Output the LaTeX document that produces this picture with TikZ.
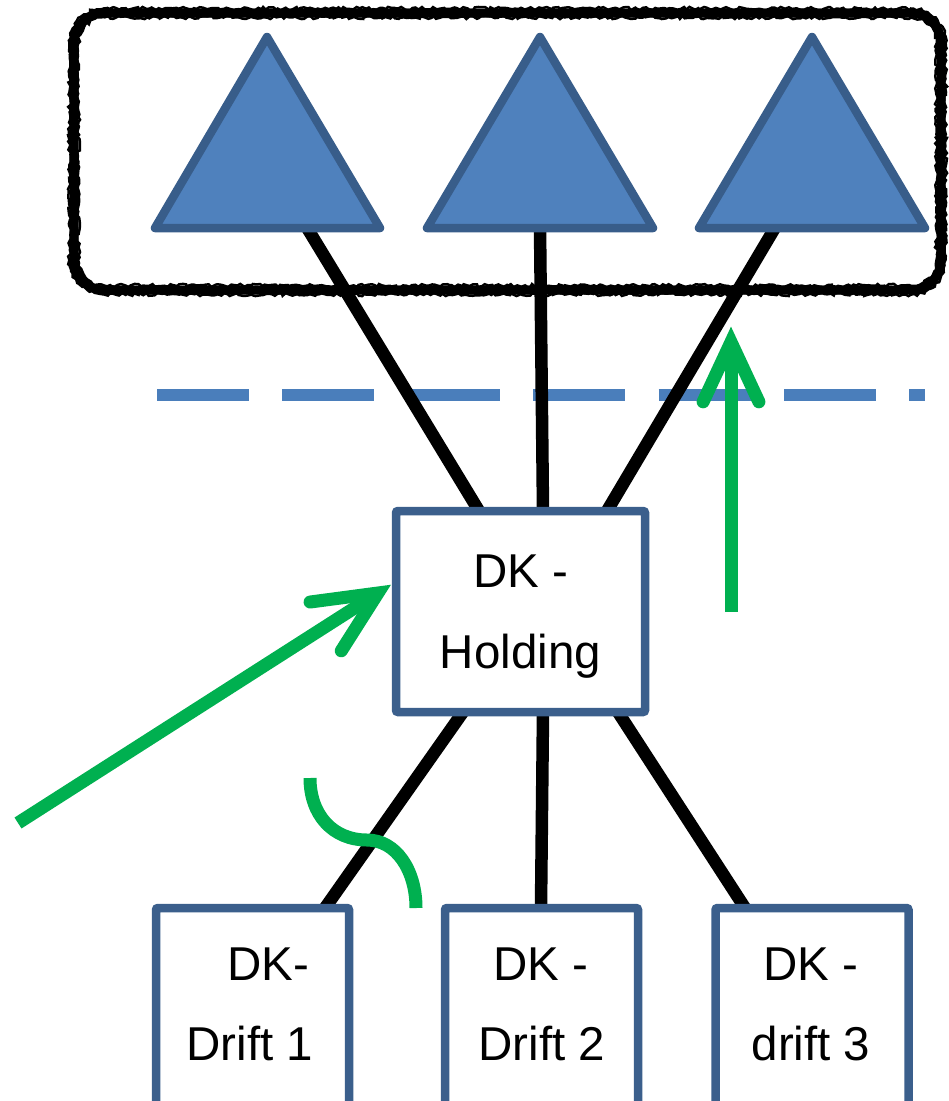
\documentclass[tikz,border=0pt]{standalone}
\usepackage{fontspec}
\setmainfont{Liberation Sans}
\usetikzlibrary{calc,decorations.pathmorphing}
\definecolor{triFill}{HTML}{4F81BD}
\definecolor{triEdge}{HTML}{385D8A}
\definecolor{boxEdge}{HTML}{3B5F8C}
\definecolor{dashBlue}{HTML}{4A7EBB}
\definecolor{arrGreen}{HTML}{00B050}
\newcommand{\myrr}[5]{({#1+#5},#2) -- ({#3-#5},#2) arc[start angle=270,end angle=360,radius=#5] -- (#3,{#4-#5}) arc[start angle=0,end angle=90,radius=#5] -- ({#1+#5},#4) arc[start angle=90,end angle=180,radius=#5] -- (#1,{#2+#5}) arc[start angle=180,end angle=270,radius=#5] -- cycle}
\tikzset{
  tri/.style={fill=triFill, draw=triEdge, line width=8.5pt, line join=round},
  entity/.style={rectangle, draw=boxEdge, fill=white, line width=8.5pt, rounded corners=2pt, inner sep=0pt, outer sep=0pt},
  link/.style={draw=black, line width=12.5pt},
  lbl/.style={font=\fontsize{47.5pt}{57pt}\selectfont, anchor=base, inner sep=0pt, outer sep=0pt},
  garrow/.style={draw=arrGreen, line width=13pt},
  gbarb/.style={draw=arrGreen, line width=13pt, line cap=round, line join=miter},
  roughframe/.style={draw=black, line width=9pt, rounded corners=30pt},
  roughedge/.style={draw=black, line width=2.5pt, decorate, decoration={random steps, segment length=3pt, amplitude=1.6pt}},
}
\begin{document}
\begin{tikzpicture}[x=1pt,y=-1pt]
\useasboundingbox (0,0) rectangle (949,1101);
% rough rounded frame
\draw[roughframe] (74,13) rectangle (941,290);
\draw[roughedge] \myrr{69.5}{8.5}{945.5}{294.5}{34.5};
\draw[roughedge] \myrr{78.5}{17.5}{936.5}{285.5}{25.5};
% dashed boundary
\draw[dashBlue, line width=12pt, dash pattern=on 92pt off 33.4pt] (157,395) -- (925,395);
% coordinates
\coordinate (t1b) at (306,226);
\coordinate (t2b) at (540,226);
\coordinate (t3b) at (776,226);
\coordinate (h1) at (479,511);
\coordinate (h2) at (543,511);
\coordinate (h3) at (607,511);
\coordinate (h4) at (463,712);
\coordinate (h5) at (543,712);
\coordinate (h6) at (618,712);
\coordinate (d1) at (325,908);
\coordinate (d2) at (541,908);
\coordinate (d3) at (745,908);
% links
\draw[link] (t1b) -- (h1);
\draw[link] (t2b) -- (h2);
\draw[link] (t3b) -- (h3);
\draw[link] (h4) -- (d1);
\draw[link] (h5) -- (d2);
\draw[link] (h6) -- (d3);
% triangles
\draw[tri] (155,228) -- (267,37) -- (380,228) -- cycle;
\draw[tri] (427,228) -- (540,37) -- (653,228) -- cycle;
\draw[tri] (699,228) -- (812,37) -- (925,228) -- cycle;
% boxes
\node[entity, minimum width=249pt, minimum height=201pt] (hold) at (520.5,611.5) {};
\node[entity, minimum width=193pt, minimum height=220pt] (drift1) at (252.5,1018) {};
\node[entity, minimum width=193pt, minimum height=220pt] (drift2) at (541.5,1018) {};
\node[entity, minimum width=193pt, minimum height=220pt] (drift3) at (812,1018) {};
% labels
\node[lbl] (holdA) at (520.5,587) {DK -};
\node[lbl] (holdB) at (520.5,668) {Holding};
\node[lbl] (d1A) at (268,980) {DK-};
\node[lbl] (d1B) at (250,1060) {Drift 1};
\node[lbl] (d2A) at (541,980) {DK -};
\node[lbl] (d2B) at (542,1060) {Drift 2};
\node[lbl] (d3A) at (811,980) {DK -};
\node[lbl] (d3B) at (811,1060) {drift 3};
% green arrows
\coordinate (g1s) at (18,823);
\coordinate (g1t) at (378,593);
\draw[garrow] (g1s) -- ($(g1t)!5pt!(g1s)$);
\draw[gbarb] ($(g1t)!68.5pt!25:(g1s)$) -- (g1t) -- ($(g1t)!68.5pt!-25:(g1s)$);
\coordinate (g2s) at (731,612);
\coordinate (g2t) at (731,342);
\draw[garrow] (g2s) -- ($(g2t)!5pt!(g2s)$);
\draw[gbarb] ($(g2t)!66pt!25:(g2s)$) -- (g2t) -- ($(g2t)!66pt!-25:(g2s)$);
% green jump arc
\coordinate (j1) at (310,778);
\coordinate (j2) at (367,840);
\coordinate (j3) at (416,908);
\draw[garrow] (j1) .. controls (310,815) and (333,840) .. (j2) .. controls (396,840) and (416,870) .. (j3);
\end{tikzpicture}
\end{document}
